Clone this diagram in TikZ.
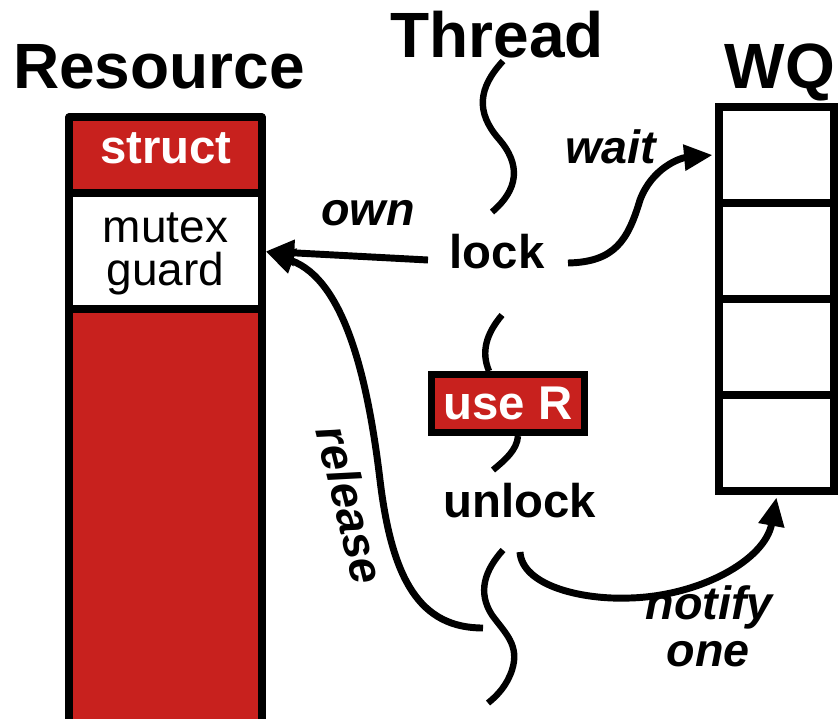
\documentclass[tikz,border=0pt]{standalone}
\usepackage{fontspec}
\setmainfont{Liberation Sans}
\usetikzlibrary{arrows.meta}
\definecolor{resred}{RGB}{200,33,30}
\begin{document}
\begin{tikzpicture}[x=0.75pt,y=-0.75pt,
  title/.style={font=\fontsize{48}{50}\selectfont\bfseries, inner sep=0pt},
  op/.style={font=\fontsize{35.5}{40}\selectfont\bfseries, inner sep=0pt},
  lbl/.style={font=\fontsize{35}{40}\selectfont\bfseries\itshape, inner sep=0pt},
  frame/.style={line width=5.4pt, line join=round},
  cell/.style={draw, line width=5.4pt, minimum width=86.25pt, minimum height=72pt, inner sep=0pt},
  threadline/.style={line width=4.8pt},
  flow/.style={line width=5.2pt, -{Triangle[length=21.5pt,width=18.5pt]}}]
\useasboundingbox (0,0) rectangle (838,718);

% titles
\node[title, anchor=base] (restitle) at (159,88) {Resource};
\node[title, anchor=base] (thrtitle) at (497,57) {Thread};
\node[title, anchor=base] (wqtitle) at (780,88) {WQ};

% resource struct
\fill[resred] (69,117) rectangle (262,725);
\node[fill=white, minimum width=144.75pt, minimum height=87pt, inner sep=0pt,
      align=center, font=\fontsize{34.5}{32.5}\selectfont] (mutex) at (165.5,254) {mutex\\guard};
\node[op, text=white, anchor=base] (struct) at (166,163) {struct};
\draw[frame] (69,725) -- (69,117) -- (262,117) -- (262,725);
\draw[frame] (69,193) -- (262,193);
\draw[frame] (69,309) -- (262,309);

% wait queue
\node[cell] (q1) at (776.5,155) {};
\node[cell] (q2) at (776.5,251) {};
\node[cell] (q3) at (776.5,347) {};
\node[cell] (q4) at (776.5,443) {};

% thread operations
\node[op, anchor=base] (lock) at (497,268) {lock};
\node[op, text=white, fill=resred, draw=black, line width=5.2pt,
      minimum width=114.75pt, minimum height=43.5pt, inner sep=0pt] (useR) at (508,403.5) {use R};
\node[op, anchor=base] (unlock) at (520,517) {unlock};

% thread squiggles
\coordinate (t1a) at (503,61);
\coordinate (t1b) at (492,212);
\coordinate (t2a) at (502,315);
\coordinate (t3b) at (493,470);
\coordinate (t4a) at (503,550);
\coordinate (t4b) at (488,703);
\draw[threadline] (t1a) .. controls (478,88) and (476,112) .. (498,138)
                        .. controls (522,165) and (518,190) .. (t1b);
\draw[threadline] (t2a) .. controls (486,334) and (481,352) .. (useR.north -| 489,0);
\draw[threadline] (useR.south -| 518,0) .. controls (517,450) and (505,460) .. (t3b);
\draw[threadline] (t4a) .. controls (485,570) and (477,592) .. (492,615)
                        .. controls (505,633) and (520,645) .. (512,670)
                        .. controls (507,685) and (498,695) .. (t4b);

% connectors
\coordinate (ownfrom) at (428,260);
\coordinate (waitfrom) at (568,263);
\coordinate (relfrom) at (483,628);
\coordinate (notifyfrom) at (520,552);
\draw[flow] (ownfrom) -- ([xshift=2.5pt,yshift=2pt]mutex.east);
\draw[flow] (relfrom) .. controls (420,628) and (392,580) .. (380,480)
                      .. controls (368,380) and (345,280) .. ([xshift=2.5pt,yshift=2pt]mutex.east);
\draw[flow] (waitfrom) .. controls (615,262) and (628,240) .. (640,200)
                       .. controls (652,168) and (680,158) .. ([xshift=-2pt]q1.west);
\draw[flow] (notifyfrom) .. controls (522,585) and (580,600) .. (630,598)
                         .. controls (700,596) and (765,560) .. ([yshift=-2pt]q4.south);

% labels
\node[lbl, anchor=base] (ownlbl) at (368,225) {own};
\node[lbl, anchor=base] (waitlbl) at (611,163) {wait};
\node[lbl, rotate=-76] (rellbl) at (351,505) {release};
\node[lbl, anchor=base] (notlbl) at (709,619) {notify};
\node[lbl, anchor=base] (onelbl) at (708,666) {one};
\end{tikzpicture}
\end{document}
